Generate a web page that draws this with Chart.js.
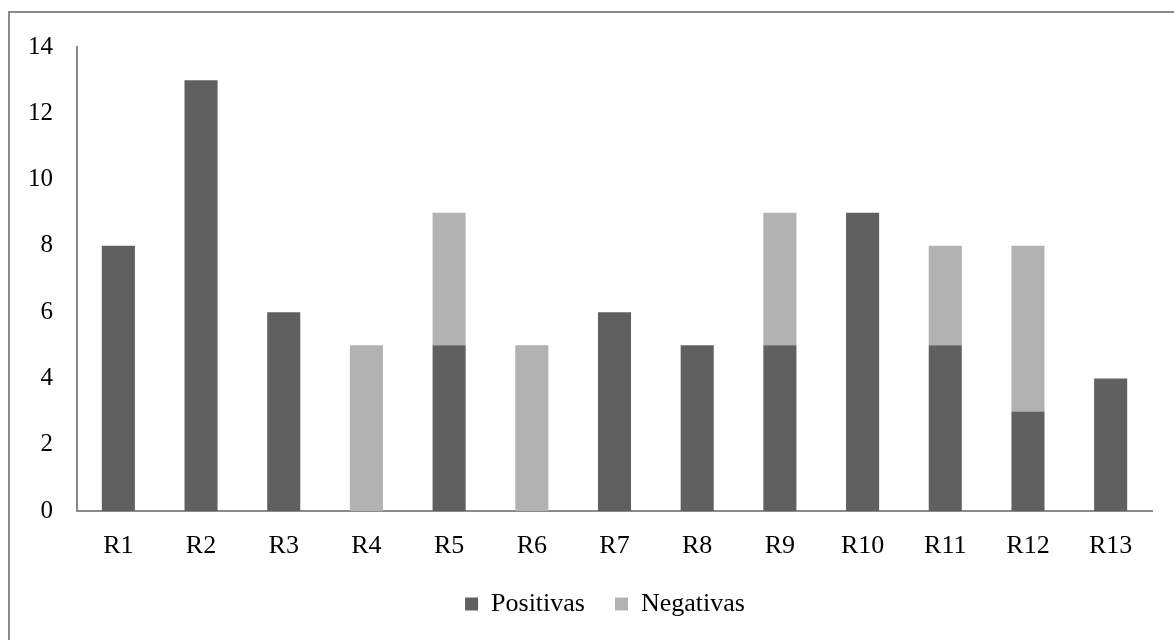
<!DOCTYPE html>
<html>
<head>
<meta charset="utf-8">
<script src="https://cdn.jsdelivr.net/npm/chart.js@4/dist/chart.umd.min.js"></script>
<style>
html,body{margin:0;padding:0;background:#fff;overflow:hidden;}
#wrap{position:absolute;left:0;top:0;width:1174px;height:640px;}
#frame{position:absolute;left:8px;top:11px;width:1200px;height:700px;border:2px solid #8a8a8a;box-sizing:border-box;pointer-events:none;}
</style>
</head>
<body>
<div id="wrap"><canvas id="c" width="1174" height="640"></canvas></div>
<div id="frame"></div>
<script>
const categories = ["R1","R2","R3","R4","R5","R6","R7","R8","R9","R10","R11","R12","R13"];
const positivas = [8,13,6,0,5,0,6,5,5,9,5,3,4];
const negativas = [0,0,0,5,4,5,0,0,4,0,3,5,0];
const yTicks = [0,2,4,6,8,10,12,14];

Chart.defaults.font.family = "'Liberation Serif','Times New Roman',serif";
Chart.defaults.color = "#000";

const legendShift = {
  id: 'legendShift',
  afterLayout(chart) {
    const l = chart.legend;
    const h = l.bottom - l.top;
    l.left += 29; l.right += 29;
    l.top = 561; l.bottom = 561 + h;
  }
};

new Chart(document.getElementById('c'), {
  type: 'bar',
  data: {
    labels: categories,
    datasets: [
      {label: 'Positivas', data: positivas, backgroundColor: '#606060', borderWidth: 0},
      {label: 'Negativas', data: negativas, backgroundColor: '#b2b2b2', borderWidth: 0}
    ]
  },
  plugins: [legendShift],
  options: {
    responsive: false,
    animation: false,
    layout: {padding: {top: 47, right: 22, bottom: 3, left: 0}},
    datasets: {bar: {categoryPercentage: 1, barPercentage: 0.4}},
    plugins: {
      legend: {
        position: 'bottom',
        labels: {boxWidth: 13, boxHeight: 13, font: {size: 26}, padding: 30, color: '#000'}
      },
      tooltip: {enabled: false}
    },
    scales: {
      x: {
        stacked: true,
        afterFit: s => { s.height = 60; },
        grid: {display: false, drawTicks: false},
        border: {display: true, color: '#8a8a8a', width: 2},
        ticks: {font: {size: 26}, padding: 20, color: '#000'}
      },
      y: {
        stacked: true,
        min: 0, max: 14,
        afterBuildTicks: s => { s.ticks = yTicks.map(v => ({value: v})); },
        afterFit: s => { s.width = 77; },
        grid: {display: false, drawTicks: false},
        border: {display: true, color: '#8a8a8a', width: 2},
        ticks: {font: {size: 25}, padding: 24, color: '#000'}
      }
    }
  }
});
</script>
</body>
</html>
